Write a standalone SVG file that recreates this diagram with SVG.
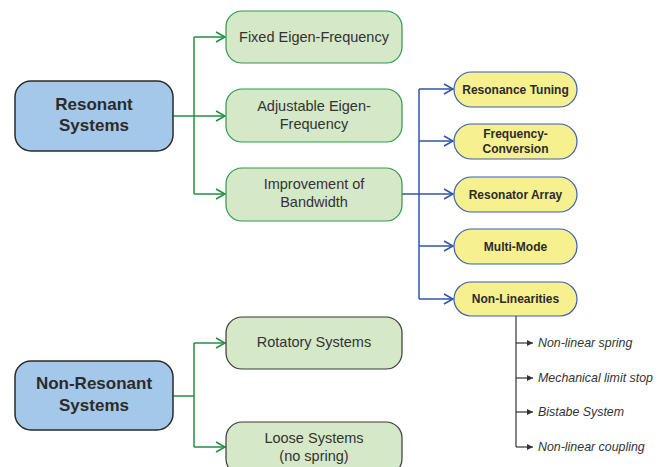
<svg xmlns="http://www.w3.org/2000/svg" width="665" height="467" viewBox="0 0 665 467">
<style>
.root{fill:#a4c8ea;stroke:#2a2a2a;stroke-width:1.5}
.gbox{fill:#d5e8c7;stroke:#2e9a4e;stroke-width:1.2}
.gbox2{fill:#d5e8c7;stroke:#3a3a3a;stroke-width:1.2}
.ybox{fill:#f7f08e;stroke:#3b5fb0;stroke-width:1.2}
.t{font-family:"Liberation Sans",Arial,sans-serif;fill:#2b2b2b;text-anchor:middle}
.rt{font-size:17px;font-weight:bold}
.gt{font-size:14.5px;fill:#333}
.yt{font-size:12px;font-weight:bold}
.it{font-family:"Liberation Sans",Arial,sans-serif;font-size:12.4px;font-style:italic;fill:#333}
.gc{fill:none;stroke:#1f9040;stroke-width:1.5}
.bc{fill:none;stroke:#2f55aa;stroke-width:1.5}
.kc{fill:none;stroke:#333;stroke-width:1.2}
</style>
<defs>
<marker id="ag" markerWidth="12" markerHeight="12" refX="10" refY="6" orient="auto" markerUnits="userSpaceOnUse"><path d="M1,1 L10,6 L1,11" fill="none" stroke="#1f9040" stroke-width="1.5"/></marker>
<marker id="ab" markerWidth="12" markerHeight="12" refX="10" refY="6" orient="auto" markerUnits="userSpaceOnUse"><path d="M1,1 L10,6 L1,11" fill="none" stroke="#2f55aa" stroke-width="1.5"/></marker>
<marker id="ak" markerWidth="8" markerHeight="8" refX="6" refY="3.5" orient="auto" markerUnits="userSpaceOnUse"><path d="M0,0.5 L6,3.5 L0,6.5 Z" fill="#333"/></marker>
</defs>
<g id="connectors">
<path class="gc" d="M173,116 H194"/>
<path class="gc" d="M194,37 V194"/>
<path class="gc" d="M194,37 H225" marker-end="url(#ag)"/>
<path class="gc" d="M194,116 H225" marker-end="url(#ag)"/>
<path class="gc" d="M194,194 H225" marker-end="url(#ag)"/>
<path class="bc" d="M402,194 H419"/>
<path class="bc" d="M419,89 V299"/>
<path class="bc" d="M419,89 H453" marker-end="url(#ab)"/>
<path class="bc" d="M419,141 H453" marker-end="url(#ab)"/>
<path class="bc" d="M419,194 H453" marker-end="url(#ab)"/>
<path class="bc" d="M419,246 H453" marker-end="url(#ab)"/>
<path class="bc" d="M419,299 H453" marker-end="url(#ab)"/>
<path class="kc" d="M516,316 V447"/>
<path class="kc" d="M516,343 H533" marker-end="url(#ak)"/>
<path class="kc" d="M516,378 H533" marker-end="url(#ak)"/>
<path class="kc" d="M516,412 H533" marker-end="url(#ak)"/>
<path class="kc" d="M516,447 H533" marker-end="url(#ak)"/>
<path class="gc" d="M173,396 H194"/>
<path class="gc" d="M194,343 V447"/>
<path class="gc" d="M194,343 H225" marker-end="url(#ag)"/>
<path class="gc" d="M194,447 H225" marker-end="url(#ag)"/>
</g>
<g id="resonant">
<rect class="root" x="15" y="81" width="158" height="70" rx="16"/>
<text class="t rt" x="94" y="110">Resonant</text>
<text class="t rt" x="94" y="131">Systems</text>
</g>
<g id="fixed">
<rect class="gbox" x="226" y="11" width="176" height="52" rx="16"/>
<text class="t gt" x="314" y="42">Fixed Eigen-Frequency</text>
</g>
<g id="adjustable">
<rect class="gbox" x="226" y="89" width="176" height="53" rx="16"/>
<text class="t gt" x="314" y="111">Adjustable Eigen-</text>
<text class="t gt" x="314" y="129">Frequency</text>
</g>
<g id="improvement">
<rect class="gbox" x="226" y="168" width="176" height="53" rx="16"/>
<text class="t gt" x="314" y="189">Improvement of</text>
<text class="t gt" x="314" y="207">Bandwidth</text>
</g>
<g id="tuning">
<rect class="ybox" x="454" y="72" width="123" height="35" rx="17.5"/>
<text class="t yt" x="515.5" y="93.5">Resonance Tuning</text>
</g>
<g id="conversion">
<rect class="ybox" x="454" y="124" width="123" height="35" rx="17.5"/>
<text class="t yt" x="515.5" y="138">Frequency-</text>
<text class="t yt" x="515.5" y="153">Conversion</text>
</g>
<g id="array">
<rect class="ybox" x="454" y="177" width="123" height="35" rx="17.5"/>
<text class="t yt" x="515.5" y="198.5">Resonator Array</text>
</g>
<g id="multimode">
<rect class="ybox" x="454" y="229" width="123" height="35" rx="17.5"/>
<text class="t yt" x="515.5" y="250.5">Multi-Mode</text>
</g>
<g id="nonlin">
<rect class="ybox" x="454" y="282" width="123" height="34" rx="17"/>
<text class="t yt" x="515.5" y="303">Non-Linearities</text>
</g>
<g id="nonlin-items">
<text class="it" x="538" y="347">Non-linear spring</text>
<text class="it" x="538" y="382">Mechanical limit stop</text>
<text class="it" x="538" y="416">Bistabe System</text>
<text class="it" x="538" y="451">Non-linear coupling</text>
</g>
<g id="nonresonant">
<rect class="root" x="15" y="361" width="158" height="69" rx="16"/>
<text class="t rt" x="94" y="389">Non-Resonant</text>
<text class="t rt" x="94" y="411">Systems</text>
</g>
<g id="rotatory">
<rect class="gbox2" x="226" y="317" width="176" height="52" rx="16"/>
<text class="t gt" x="314" y="347">Rotatory Systems</text>
</g>
<g id="loose">
<rect class="gbox2" x="226" y="422" width="176" height="53" rx="16"/>
<text class="t gt" x="314" y="443">Loose Systems</text>
<text class="t gt" x="314" y="461">(no spring)</text>
</g>
</svg>
